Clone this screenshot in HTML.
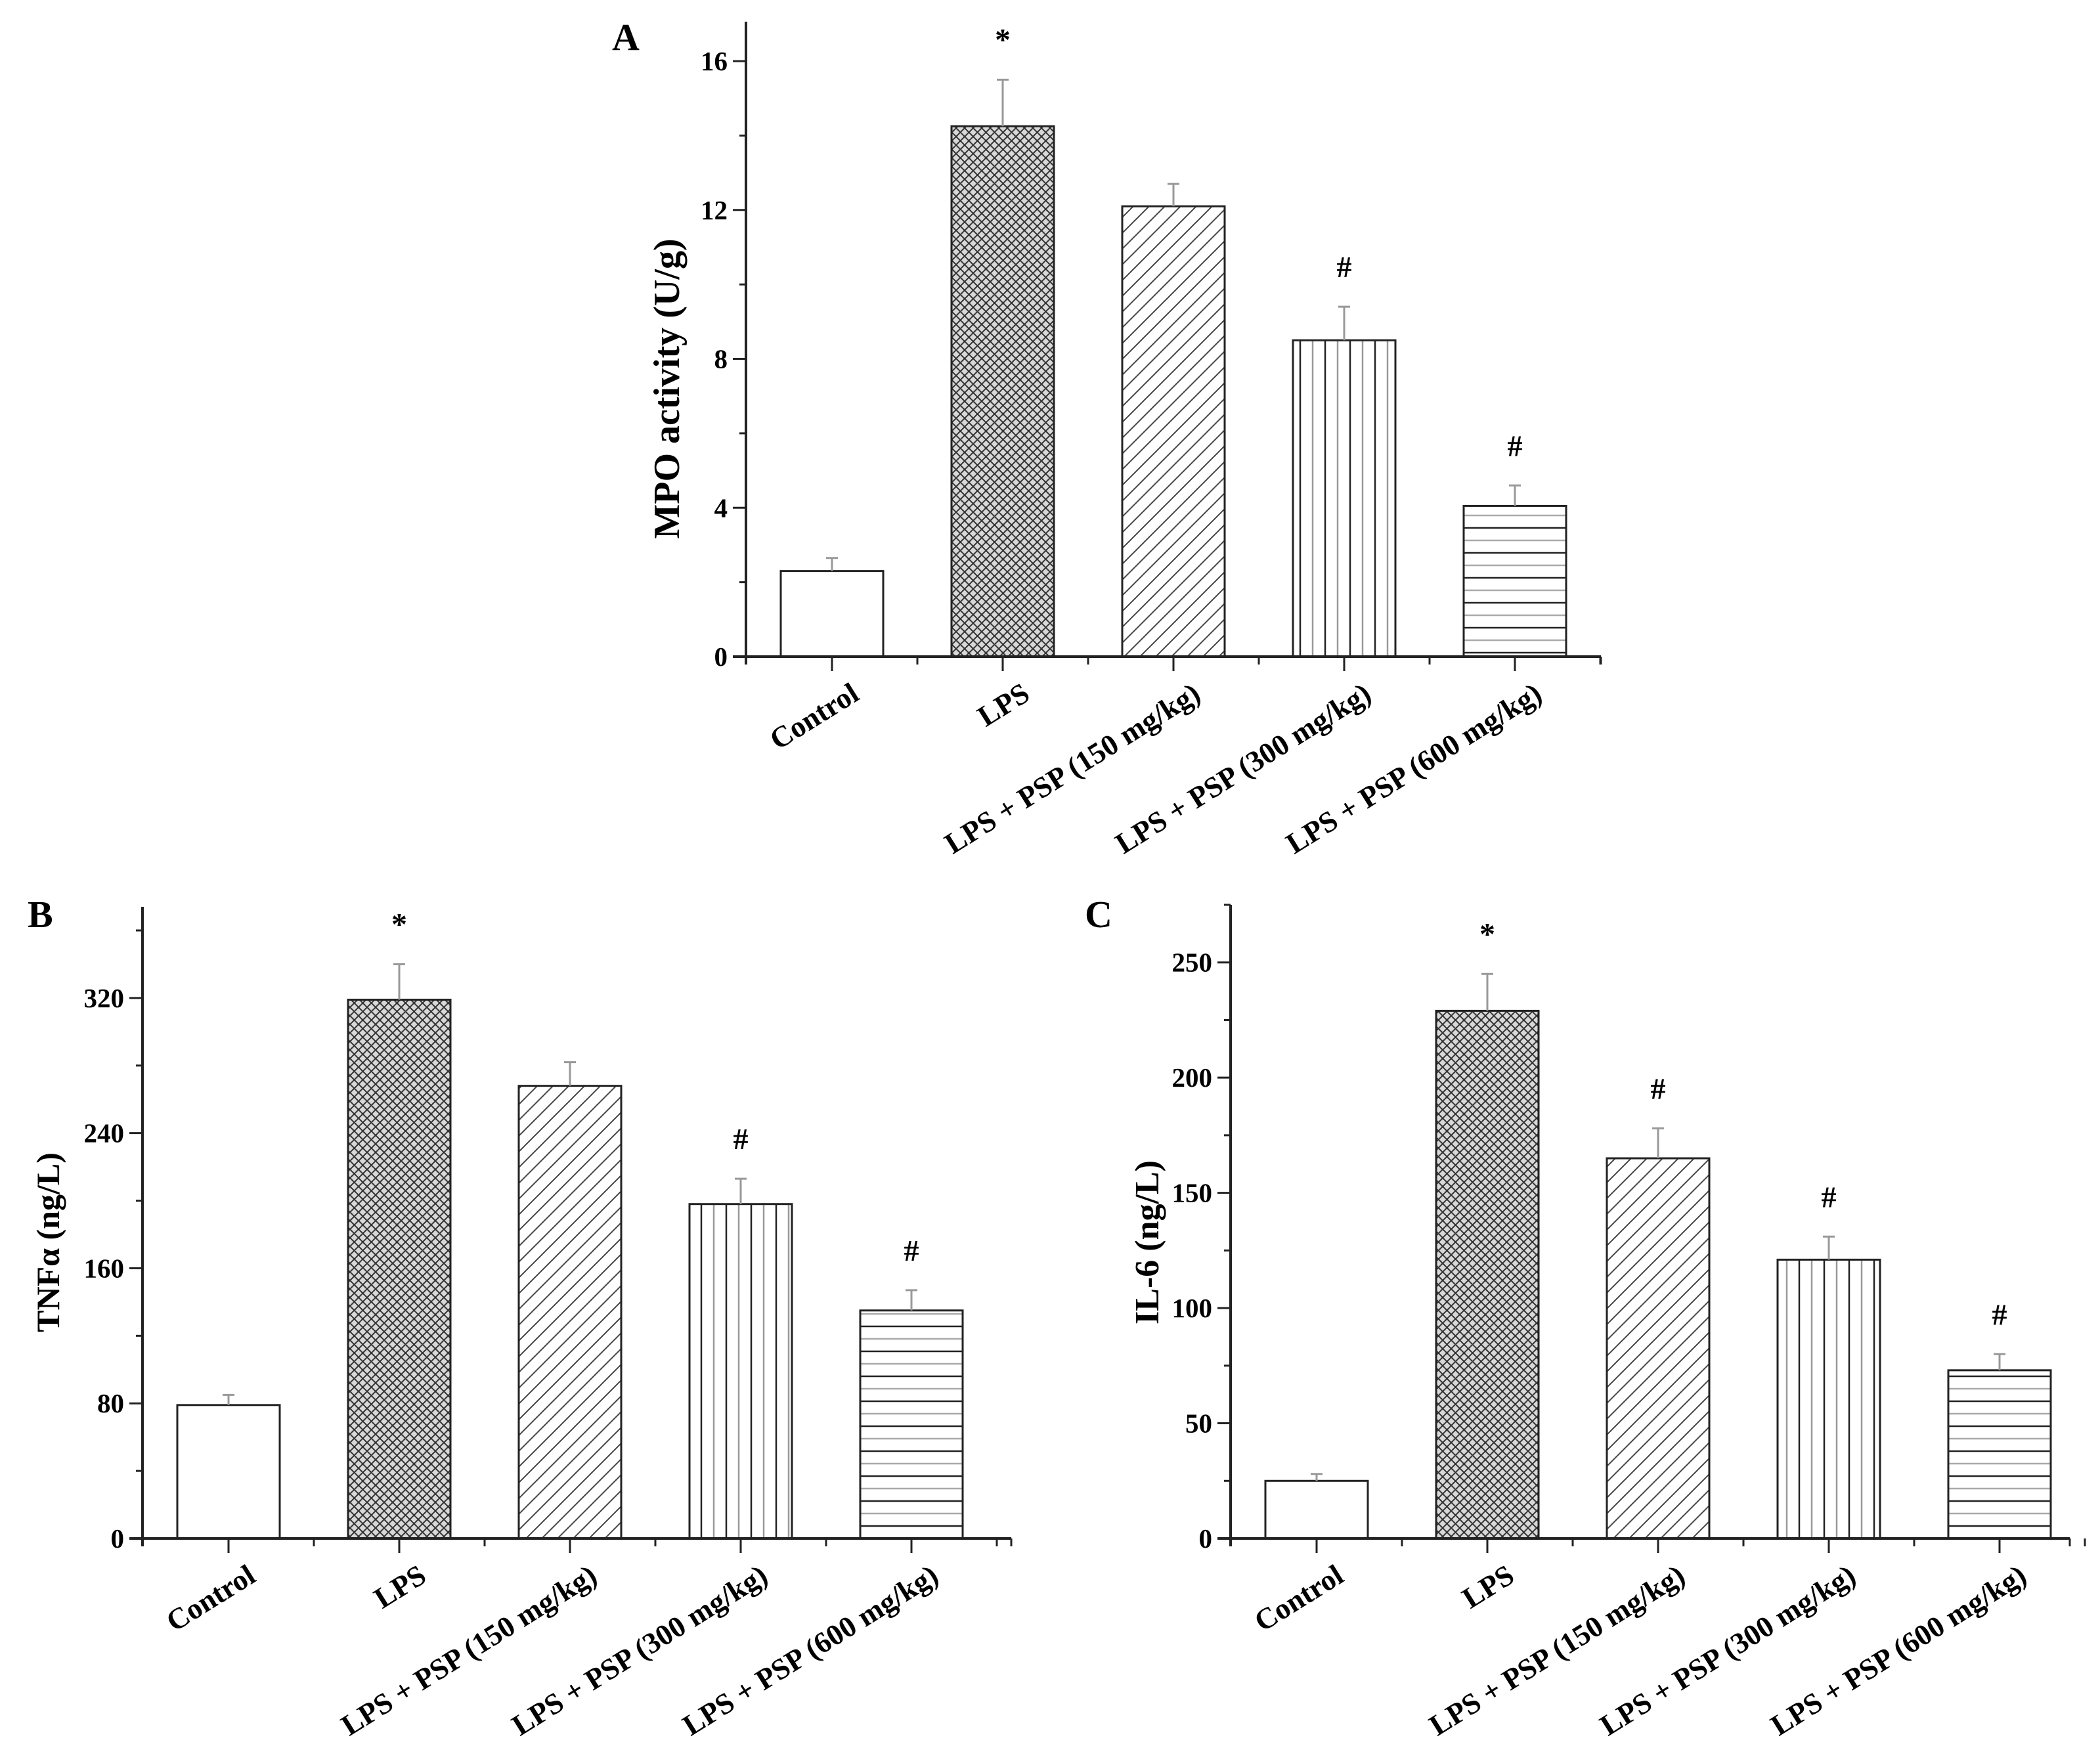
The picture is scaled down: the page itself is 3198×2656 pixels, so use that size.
<!DOCTYPE html>
<html><head><meta charset="utf-8"><style>
html,body{margin:0;padding:0;background:#fff;}
svg{display:block;font-family:"Liberation Serif",serif;font-weight:bold;}
</style></head><body>
<svg id="fig" width="3198" height="2656" viewBox="0 0 3198 2656" xmlns="http://www.w3.org/2000/svg">
<defs>
<pattern id="p-cross" patternUnits="userSpaceOnUse" width="13" height="13">
<rect width="13" height="13" fill="#d8d8d8"/>
<path d="M0,0 L13,13 M13,0 L0,13" stroke="#333" stroke-width="2"/>
</pattern>
<pattern id="p-diag" patternUnits="userSpaceOnUse" width="24" height="24">
<path d="M-6,30 L30,-6 M-6,6 L6,-6 M18,30 L30,18" stroke="#444" stroke-width="2"/>
</pattern>
<pattern id="p-vert" patternUnits="userSpaceOnUse" width="38" height="10">
<path d="M4,0 V10" stroke="#222" stroke-width="2.5"/><path d="M23,0 V10" stroke="#999" stroke-width="2.5"/>
</pattern>
<pattern id="p-horz" patternUnits="userSpaceOnUse" width="10" height="38">
<path d="M0,6 H10" stroke="#222" stroke-width="2.5"/><path d="M0,25 H10" stroke="#aaa" stroke-width="2.5"/>
</pattern>
</defs>
</svg>
<script>
const categories = ["Control","LPS","LPS + PSP (150 mg/kg)","LPS + PSP (300 mg/kg)","LPS + PSP (600 mg/kg)"];
const mpoValues = [2.3, 14.25, 12.1, 8.5, 4.05];
const mpoErrors = [0.35, 1.25, 0.6, 0.9, 0.55];
const mpoTicks = [0, 4, 8, 12, 16];
const mpoMarks = ["", "*", "", "#", "#"];
const tnfValues = [79, 319, 268, 198, 135];
const tnfErrors = [6, 21, 14, 15, 12];
const tnfTicks = [0, 80, 160, 240, 320];
const tnfMarks = ["", "*", "", "#", "#"];
const il6Values = [25, 229, 165, 121, 73];
const il6Errors = [3, 16, 13, 10, 7];
const il6Ticks = [0, 50, 100, 150, 200, 250];
const il6Marks = ["", "*", "#", "#", "#"];

const NS = "http://www.w3.org/2000/svg";
const svg = document.getElementById('fig');
const fills = ["#fff","url(#p-cross)","url(#p-diag)","url(#p-vert)","url(#p-horz)"];
function mk(tag, attrs, parent){const e=document.createElementNS(NS,tag);for(const k in attrs)e.setAttribute(k,attrs[k]);(parent||svg).appendChild(e);return e;}

function panel(cfg){
  const g = mk('g',{});
  
  
  const y = v => cfg.base - v*(cfg.base-cfg.top)/cfg.dmax;
  const x = i => cfg.ax + 131 + i*260;
  cfg.values.forEach((v,i)=>{
    const r = mk('rect',{x:x(i)-78,y:y(v),width:156,height:cfg.base-y(v),fill:fills[i],stroke:'#222','stroke-width':3},g);
    
    
    const et = y(v+cfg.errors[i]);
    const eb = mk('path',{d:`M${x(i)},${y(v)} V${et} M${x(i)-9},${et} H${x(i)+9}`,stroke:'#999','stroke-width':3,fill:'none'},g);
    
    
    if(cfg.marks[i]){
      const t = mk('text',{x:x(i),y:et-45,'text-anchor':'middle','font-size':cfg.marks[i]==='*'?48:46},g);
      t.textContent = cfg.marks[i];
      
      
    }
    const ax = x(i)+44, ay = cfg.base+64;
    const lb = mk('text',{x:ax,y:ay,'text-anchor':'end','font-size':45,transform:`rotate(-32 ${ax} ${ay})`},g);
    lb.textContent = categories[i];
    
    
    mk('line',{x1:x(i),x2:x(i),y1:cfg.base,y2:cfg.base+22,stroke:'#222','stroke-width':3},g);
    mk('line',{x1:x(i)+130,x2:x(i)+130,y1:cfg.base,y2:cfg.base+12,stroke:'#222','stroke-width':3},g);
  });
  const ya = mk('line',{x1:cfg.ax,x2:cfg.ax,y1:cfg.top,y2:cfg.base+12,stroke:'#222','stroke-width':4},g);
  
  
  const xa = mk('line',{x1:cfg.ax-20,x2:cfg.right,y1:cfg.base,y2:cfg.base,stroke:'#222','stroke-width':4},g);
  
  
  mk('line',{x1:cfg.right,x2:cfg.right,y1:cfg.base,y2:cfg.base+12,stroke:'#222','stroke-width':3},g);
  const step = cfg.ticks[1]-cfg.ticks[0];
  for(let v=step/2; v<=cfg.dmax; v+=step){
    mk('line',{x1:cfg.ax-10,x2:cfg.ax,y1:y(v),y2:y(v),stroke:'#222','stroke-width':3},g);
  }
  cfg.ticks.forEach(t=>{
    mk('line',{x1:cfg.ax-20,x2:cfg.ax,y1:y(t),y2:y(t),stroke:'#222','stroke-width':3},g);
    const tl = mk('text',{x:cfg.ax-28,y:y(t)+14,'text-anchor':'end','font-size':41},g);
    tl.textContent = t;
    
    
  });
  const cy = cfg.titleY;
  const tt = mk('text',{x:cfg.titleX,y:cy,'text-anchor':'middle','font-size':cfg.titleSize,transform:`rotate(-90 ${cfg.titleX} ${cy})`},g);
  tt.textContent = cfg.title;
  
  
  const pl = mk('text',{x:cfg.letterX,y:cfg.letterY,'font-size':58},g);
  pl.textContent = cfg.letter;
  
  
}

panel({name:'panel-a-mpo',ax:1136,base:1000,top:33,dmax:17.06,right:2438,values:mpoValues,errors:mpoErrors,ticks:mpoTicks,marks:mpoMarks,title:'MPO activity (U/g)',titleX:1034,titleY:592,titleSize:56,letter:'A',letterX:932,letterY:76});
panel({name:'panel-b-tnf',ax:217,base:2343,top:1381,dmax:374,right:1540,values:tnfValues,errors:tnfErrors,ticks:tnfTicks,marks:tnfMarks,title:'TNFα (ng/L)',titleX:90,titleY:1892,titleSize:50,letter:'B',letterX:42,letterY:1412});
panel({name:'panel-c-il6',ax:1874,base:2343,top:1378,dmax:275,right:3152,values:il6Values,errors:il6Errors,ticks:il6Ticks,marks:il6Marks,title:'IL-6 (ng/L)',titleX:1764,titleY:1892,titleSize:52,letter:'C',letterX:1652,letterY:1412});
</script>
</body></html>
